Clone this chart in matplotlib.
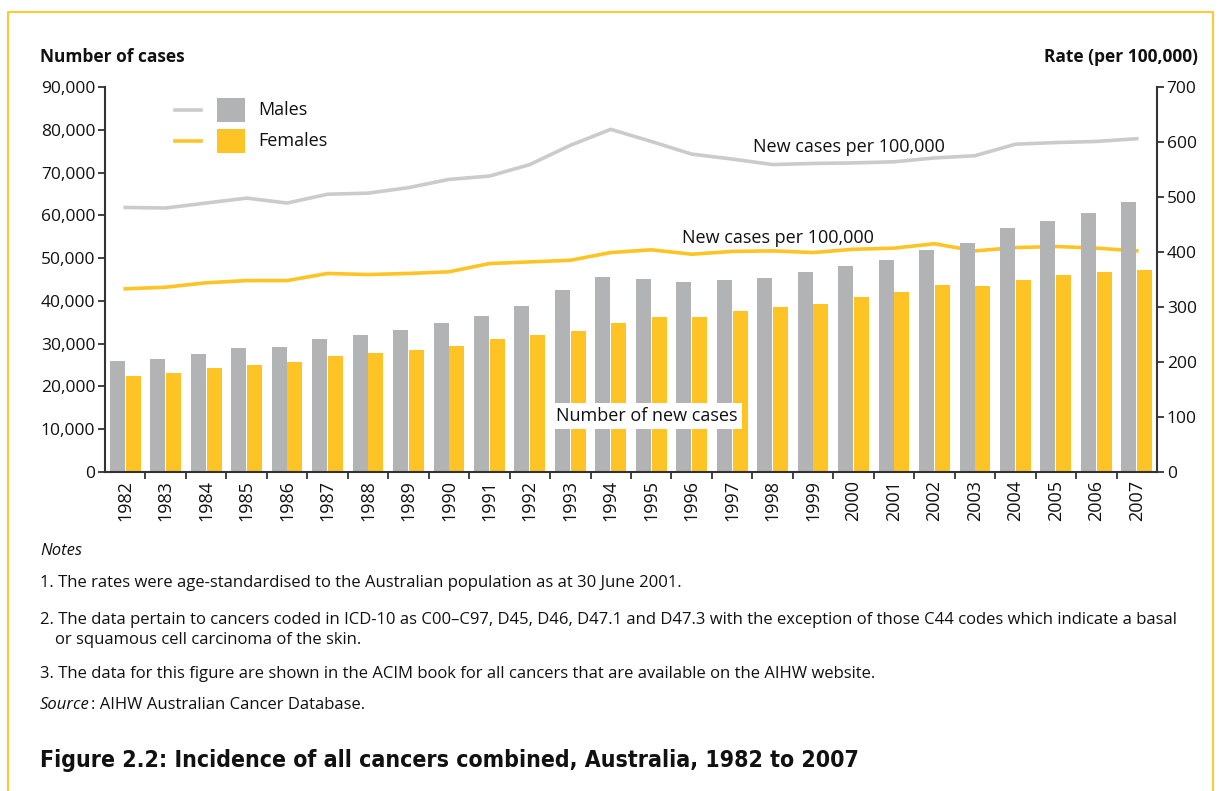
import numpy as np
import matplotlib.pyplot as plt
from matplotlib.lines import Line2D
from matplotlib.patches import Rectangle

plt.rcParams['font.family'] = ['Open Sans', 'DejaVu Sans']

# Data
years = list(range(1982, 2008))
males_cases = [25950, 26400, 27600, 29000, 29200, 31100, 32000, 33200, 34800, 36500,
               38800, 42500, 45600, 45100, 44400, 44900, 45400, 46800, 48200, 49600,
               51900, 53500, 57000, 58700, 60500, 63100]
females_cases = [22400, 23100, 24300, 25000, 25700, 27100, 27800, 28500, 29500, 31100,
                 32000, 33000, 34800, 36200, 36200, 37600, 38600, 39300, 40900, 42100,
                 43700, 43500, 44900, 46100, 46800, 47200]
males_rate = [481, 480, 489, 498, 489, 505, 507, 517, 532, 538,
              559, 594, 623, 601, 578, 569, 559, 561, 562, 564,
              571, 575, 596, 599, 601, 606]
females_rate = [333, 336, 344, 348, 348, 361, 359, 361, 364, 379,
                382, 385, 399, 404, 396, 401, 402, 399, 405, 407,
                415, 402, 408, 410, 407, 402]

GREY_BAR = '#b1b3b5'
GOLD = '#fec425'
GREY_LINE = '#cbcbcb'
AXIS = '#333333'
TXT = '#111111'

W, H = 1219, 791
fig = plt.figure(figsize=(W / 100, H / 100), dpi=100)


def fx(px):
    return px / W


def fy(py):
    return 1 - py / H


ax = fig.add_axes([fx(105), fy(472), fx(1157) - fx(105), fy(87) - fy(472)])
ax2 = ax.twinx()
ax.set_zorder(ax2.get_zorder() + 1)
ax.patch.set_visible(False)

x = np.arange(len(years))
bw = 0.37
ax.bar(x - 0.195, males_cases, width=bw, color=GREY_BAR, zorder=2)
ax.bar(x + 0.195, females_cases, width=bw, color=GOLD, zorder=2)

ax2.plot(x, males_rate, color=GREY_LINE, lw=2.6, solid_joinstyle='miter')
ax2.plot(x, females_rate, color=GOLD, lw=2.6, solid_joinstyle='miter')

ax.set_xlim(-0.5, len(years) - 0.5)
ax.set_ylim(0, 90000)
ax2.set_ylim(0, 700)

ax.set_yticks(np.arange(0, 90001, 10000))
ax.set_yticklabels([f'{v:,}' for v in range(0, 90001, 10000)])
ax2.set_yticks(np.arange(0, 701, 100))

ax.set_xticks(x)
ax.set_xticklabels([str(y) for y in years], rotation=90)
ax.set_xticks(np.arange(0.5, len(years) - 1, 1), minor=True)
ax.tick_params(axis='x', which='major', length=0, pad=6, labelsize=13, labelcolor=TXT)
ax.tick_params(axis='x', which='minor', length=5, width=1.3, color=AXIS)
ax.tick_params(axis='y', length=5, width=1.3, color=AXIS, labelsize=12.5, labelcolor=TXT, pad=2)
ax2.tick_params(axis='y', length=5, width=1.3, color=AXIS, labelsize=12.5, labelcolor=TXT, pad=2)

for a in (ax, ax2):
    a.spines['top'].set_visible(False)
    for s in ('left', 'right', 'bottom'):
        a.spines[s].set_color(AXIS)
        a.spines[s].set_linewidth(1.5)
ax.spines['right'].set_visible(False)
ax2.spines['left'].set_visible(False)
ax2.spines['bottom'].set_visible(False)

# Axis titles
fig.text(fx(40), fy(57), 'Number of cases', fontsize=12.5, fontweight='bold', va='center', ha='left', color=TXT)
fig.text(fx(1198), fy(57), 'Rate (per 100,000)', fontsize=12.5, fontweight='bold', va='center', ha='right',
         color=TXT)

# Legend
for ly, col_line, col_box, lab in [(110, GREY_LINE, GREY_BAR, 'Males'), (141, GOLD, GOLD, 'Females')]:
    fig.add_artist(Line2D([fx(175), fx(201)], [fy(ly), fy(ly)], color=col_line, lw=2.6))
    fig.add_artist(Rectangle((fx(217), fy(ly + 12)), fx(245) - fx(217), fy(ly - 12) - fy(ly + 12),
                             facecolor=col_box, edgecolor='none'))
    fig.text(fx(258), fy(ly), lab, fontsize=13, va='center', ha='left', color=TXT)

# In-chart labels
fig.text(fx(753), fy(147), 'New cases per 100,000', fontsize=13, va='center', ha='left', color=TXT)
fig.text(fx(682), fy(238), 'New cases per 100,000', fontsize=13, va='center', ha='left', color=TXT)
fig.text(fx(556), fy(416), 'Number of new cases', fontsize=13, va='center', ha='left', color=TXT,
         zorder=10, bbox=dict(facecolor='white', edgecolor='none', pad=3))

# Notes
nfs = 12
fig.text(fx(40), fy(551), 'Notes', fontsize=nfs, style='italic', va='center', color=TXT)
fig.text(fx(40), fy(583), '1. The rates were age-standardised to the Australian population as at 30 June 2001.',
         fontsize=nfs, va='center', color=TXT)
fig.text(fx(40), fy(620), '2. The data pertain to cancers coded in ICD-10 as C00\u2013C97, D45, D46, D47.1 and D47.3 '
         'with the exception of those C44 codes which indicate a basal', fontsize=nfs, va='center', color=TXT)
fig.text(fx(55), fy(640), 'or squamous cell carcinoma of the skin.', fontsize=nfs, va='center', color=TXT)
fig.text(fx(40), fy(674), '3. The data for this figure are shown in the ACIM book for all cancers that are available '
         'on the AIHW website.', fontsize=nfs, va='center', color=TXT)
src = fig.text(fx(40), fy(705), 'Source', fontsize=nfs, style='italic', va='center', color=TXT)
fig.canvas.draw()
bb = src.get_window_extent()
fig.text(bb.x1 / W + 0.001, fy(705), ': AIHW Australian Cancer Database.', fontsize=nfs, va='center', color=TXT)

fig.text(fx(40), fy(760), 'Figure 2.2: Incidence of all cancers combined, Australia, 1982 to 2007',
         fontsize=16.6, fontweight='bold', fontstretch='condensed', va='center', color=TXT,
         family=['Liberation Sans Narrow', 'DejaVu Sans'])

# Yellow frame
fig.add_artist(Line2D([fx(8), fx(8), fx(1213), fx(1213)], [0, fy(12), fy(12), 0], color='#fdc937', lw=1.5))

fig.savefig('out.png', dpi=100)
